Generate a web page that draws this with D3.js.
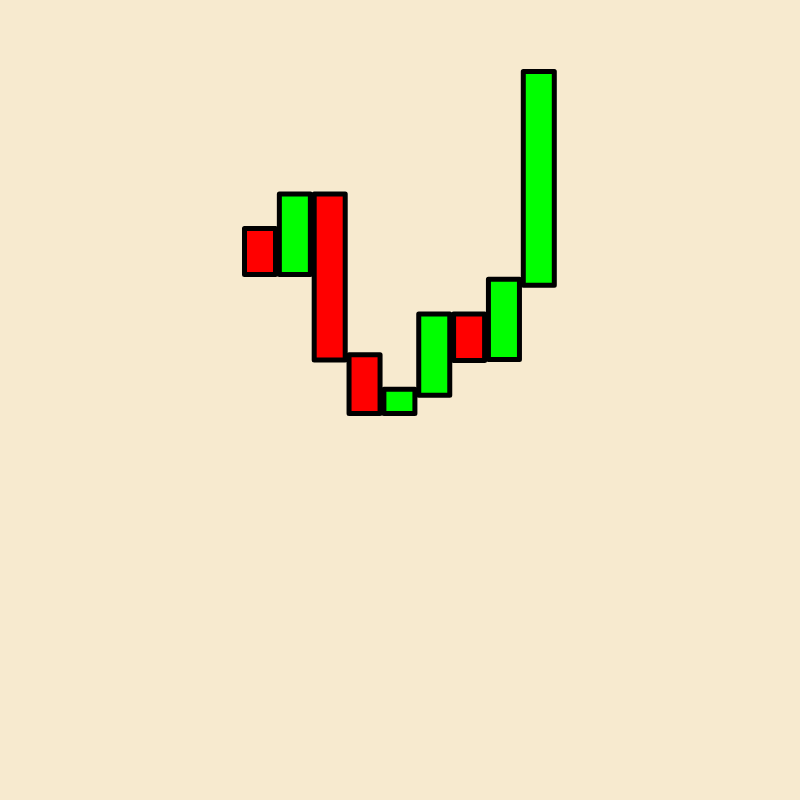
<!DOCTYPE html>
<html>
<head>
<meta charset="utf-8">
<script src="https://cdn.jsdelivr.net/npm/d3@7"></script>
<style>
  html, body { margin: 0; padding: 0; background: #f7eacf; }
  svg { display: block; }
</style>
</head>
<body>
<script>
// Data
const categories = ["P1", "P2", "P3", "P4", "P5", "P6", "P7", "P8", "P9"];
const openValues  = [55.4, 43.9, 64.0, 23.8,  9.1, 13.7, 34.0, 22.6, 41.2];
const closeValues = [43.9, 64.0, 22.5,  9.1, 15.2, 34.0, 22.4, 42.7, 94.6];

const W = 800, H = 800;
const svg = d3.select("body").append("svg")
  .attr("width", W).attr("height", H);

svg.append("rect").attr("width", W).attr("height", H).attr("fill", "#f7eacf");

const x = d3.scaleBand()
  .domain(categories)
  .range([244.5, 554.3])
  .paddingInner(0.11)
  .paddingOuter(0);

const y = d3.scaleLinear().domain([0, 100]).range([450, 50]);

const data = categories.map((c, i) => ({ c, o: openValues[i], cl: closeValues[i] }));

svg.append("g").selectAll("rect")
  .data(data)
  .join("rect")
  .attr("x", d => x(d.c))
  .attr("width", x.bandwidth())
  .attr("y", d => y(Math.max(d.o, d.cl)))
  .attr("height", d => Math.abs(y(d.o) - y(d.cl)))
  .attr("fill", d => d.cl >= d.o ? "#00ff00" : "#ff0000")
  .attr("stroke", "#000")
  .attr("stroke-width", 5)
  .attr("stroke-linejoin", "round");
</script>
</body>
</html>
